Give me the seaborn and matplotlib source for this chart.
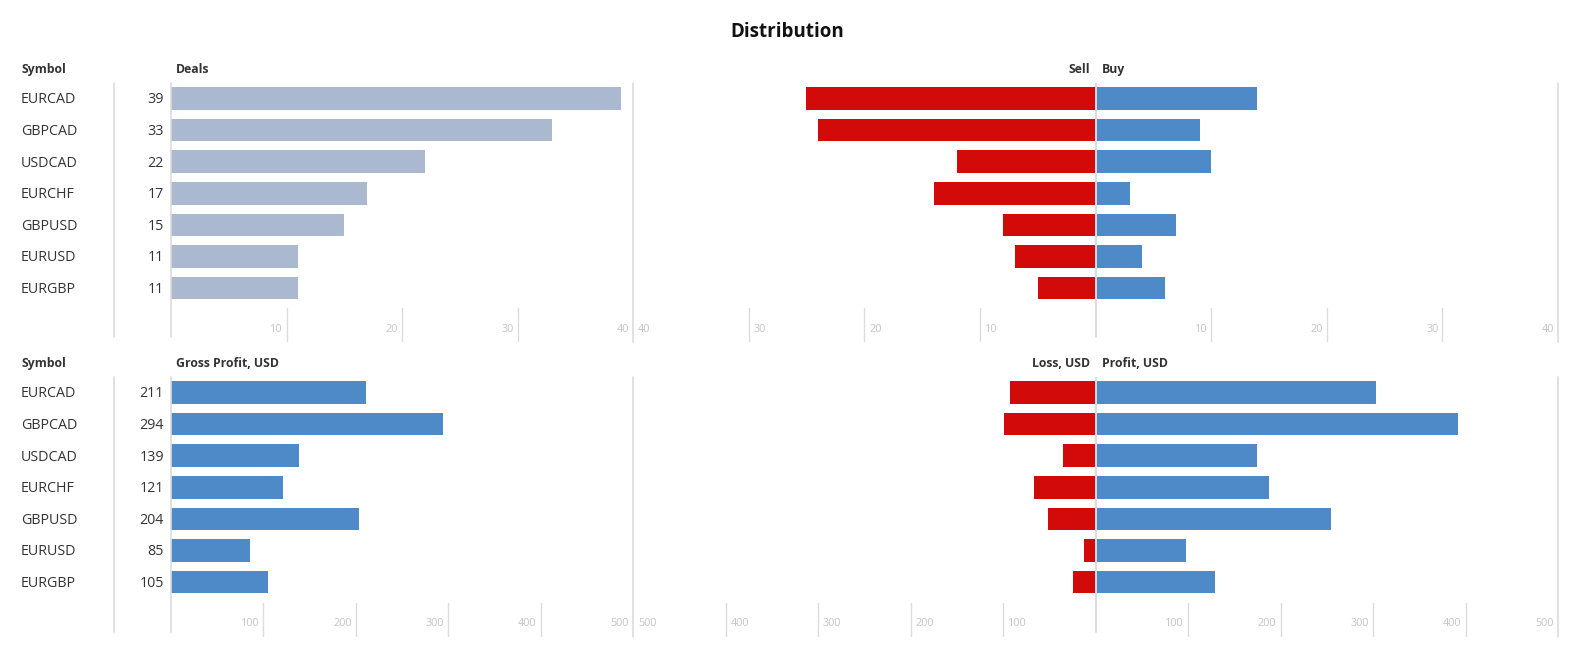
import matplotlib
matplotlib.use("Agg")
import matplotlib.pyplot as plt
import matplotlib.transforms as mtrans
import numpy as np
import seaborn as sns

sns.set_theme(style="white")
plt.rcParams['font.family'] = ['Open Sans', 'DejaVu Sans']

# data
symbols = ["EURCAD", "GBPCAD", "USDCAD", "EURCHF", "GBPUSD", "EURUSD", "EURGBP"]
deals = [39, 33, 22, 17, 15, 11, 11]
sell = [25, 24, 12, 14, 8, 7, 5]
buy = [14, 9, 10, 3, 7, 4, 6]
gross_profit = [211, 294, 139, 121, 204, 85, 105]
loss = [92.6, 98.4, 35.6, 66.5, 51, 12.5, 24.5]
profit = [303.6, 392.4, 174.6, 187.5, 255, 97.5, 129.5]

deal_ticks = [10, 20, 30, 40]
usd_ticks = [100, 200, 300, 400, 500]

W, H = 1570, 645
TEXT = "#333333"
GRID = "#dcdcdc"
TICKC = "#c4c4c4"
BLUE = "#4f8ac8"
RED = "#d20a0a"
SLATE = "#aab8d0"

fig = plt.figure(figsize=(W / 100, H / 100), dpi=100)


def px_axes(x0, x1, y0, y1):
    return fig.add_axes([x0 / W, 1 - y1 / H, (x1 - x0) / W, (y1 - y0) / H])


def fx(x):
    return x / W


def fy(y):
    return 1 - y / H


def finish(ax, lim, top, bot):
    # rows 0..6, first center 15.5px below top, 31.6px per row
    span = (bot - top) / 31.6
    ax.set_ylim(-0.49 + span, -0.49)
    ax.set_xlim(*lim)
    ax.axis("off")
    return 34 / (bot - top), 13 / (bot - top)


def tick_label(ax, v, y, text, off, ha):
    tr = mtrans.offset_copy(ax.get_xaxis_transform(), fig=fig, x=off, y=0, units="dots")
    ax.text(v, y, text, transform=tr, ha=ha, va="center", fontsize=7.8, color=TICKC)


def tick_marks(ax, ticks, tick_frac, lab_frac, both):
    for t in ticks:
        vals = [-t, t] if both else [t]
        for v in vals:
            ax.axvline(v, ymin=0, ymax=tick_frac, color=GRID, lw=1)
            if v > 0:
                tick_label(ax, v, lab_frac, str(t), -4, "right")
            else:
                tick_label(ax, v, lab_frac, str(t), 5, "left")


def panel(top, bot, values, bar_color, vmax, ticks, head_left, head_neg, head_pos,
          neg_vals, pos_vals):
    # left single-sided chart
    ax1 = px_axes(171, 633, top, bot)
    sns.barplot(x=values, y=symbols, orient="h", ax=ax1, color=bar_color,
                saturation=1, width=0.72, linewidth=0)
    tf, lf = finish(ax1, (0, vmax), top, bot)
    ax1.axvline(0, ymin=0.02, ymax=1, color=GRID, lw=1.2, clip_on=False)
    ax1.axvline(vmax, ymin=0, ymax=1, color=GRID, lw=1.2, clip_on=False)
    tick_marks(ax1, ticks[:-1], tf, lf, False)
    tick_label(ax1, vmax, lf, str(ticks[-1]), -4, "right")

    # symbol and value columns
    bt = mtrans.offset_copy(
        mtrans.blended_transform_factory(fig.transFigure, ax1.transData),
        fig=fig, x=0, y=-1.5, units="dots")
    for i, (s, v) in enumerate(zip(symbols, values)):
        ax1.text(fx(21), i, s, transform=bt, ha="left", va="center",
                 fontsize=10.3, color=TEXT, clip_on=False)
        ax1.text(fx(164), i, f"{v:g}", transform=bt, ha="right", va="center",
                 fontsize=10.3, color=TEXT, clip_on=False)
    fig.add_artist(plt.Line2D([fx(114), fx(114)], [fy(bot - 5), fy(top)],
                              color=GRID, lw=1.2))

    # diverging chart
    ax2 = px_axes(633, 1558, top, bot)
    sns.barplot(x=np.negative(neg_vals), y=symbols, orient="h", ax=ax2, color=RED,
                saturation=1, width=0.72, linewidth=0)
    sns.barplot(x=pos_vals, y=symbols, orient="h", ax=ax2, color=BLUE,
                saturation=1, width=0.72, linewidth=0)
    tf, lf = finish(ax2, (-vmax, vmax), top, bot)
    ax2.axvline(0, ymin=0.02, ymax=1, color=GRID, lw=1.4, zorder=5)
    ax2.axvline(vmax, ymin=0, ymax=1, color=GRID, lw=1.2, clip_on=False)
    tick_marks(ax2, ticks[:-1], tf, lf, True)
    tick_label(ax2, -vmax, lf, str(ticks[-1]), 5, "left")
    tick_label(ax2, vmax, lf, str(ticks[-1]), -4, "right")

    # headers, on a common baseline
    hy = fy(top - 10)
    for x, txt, ha in [(21, "Symbol", "left"), (176, head_left, "left"),
                       (1090, head_neg, "right"), (1102, head_pos, "left")]:
        fig.text(fx(x), hy, txt, ha=ha, va="baseline", fontsize=8.8,
                 fontweight="bold", color=TEXT)


panel(83, 342, deals, SLATE, 40, deal_ticks, "Deals", "Sell", "Buy", sell, buy)
panel(377, 637, gross_profit, BLUE, 500, usd_ticks, "Gross Profit, USD",
      "Loss, USD", "Profit, USD", loss, profit)

fig.text(fx(787), fy(32), "Distribution", ha="center", va="center",
         fontsize=13.5, fontweight="bold", color="#111111")

fig.savefig("out.png", dpi=100, facecolor="white")
